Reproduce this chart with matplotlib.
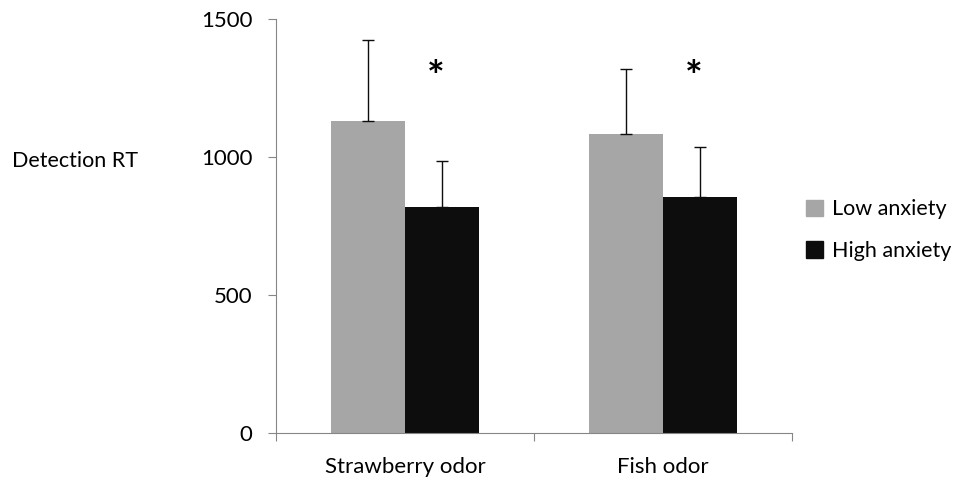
import matplotlib
matplotlib.use('Agg')
import matplotlib.pyplot as plt
import numpy as np
from matplotlib.patches import Patch

plt.rcParams['font.family'] = ['Lato', 'DejaVu Sans']

# data
categories = ['Strawberry odor', 'Fish odor']
low_mean = [1130, 1083]
low_err = [294, 236]
high_mean = [819, 855]
high_err = [167, 181]
star_y = 1285

grey = '#a6a6a6'
black = '#0d0d0d'
axcol = '#868686'

fig = plt.figure(figsize=(9.55, 4.8), dpi=100)
ax = fig.add_axes([0.289, 0.098, 0.540, 0.862])

x = np.arange(len(categories))
w = 0.287
ax.bar(x - w/2, low_mean, w, color=grey)
ax.bar(x + w/2, high_mean, w, color=black)
zeros = [0] * len(categories)
ax.errorbar(x - w/2, low_mean, yerr=[zeros, low_err], fmt='none', ecolor=black,
            elinewidth=1, capsize=4.5, capthick=1)
ax.errorbar(x + w/2, high_mean, yerr=[zeros, high_err], fmt='none', ecolor=black,
            elinewidth=1, capsize=4.5, capthick=1)
for xi in x:
    ax.text(xi + 0.12, star_y, '*', ha='center', va='center', fontsize=30,
            fontweight='bold')

ax.set_xlim(-0.5, 1.5)
ax.set_ylim(0, 1500)
ax.set_yticks([0, 500, 1000, 1500])
ax.set_xticks([-0.5, 0.5, 1.5])
ax.set_xticklabels([])
ax.set_xticks(x, minor=True)
ax.set_xticklabels(categories, minor=True)

for s in ['top', 'right']:
    ax.spines[s].set_visible(False)
for s in ['left', 'bottom']:
    ax.spines[s].set_color(axcol)
ax.tick_params(axis='both', which='major', direction='out', length=5.8, color=axcol,
               labelsize=16)
ax.tick_params(axis='y', pad=11)
ax.tick_params(axis='x', which='minor', length=0, pad=17, labelsize=16)

fig.text(12/955, 1 - 161/480, 'Detection RT', fontsize=15.5, ha='left', va='center')

handles = [Patch(color=grey), Patch(color=black)]
fig.legend(handles, ['Low anxiety', 'High anxiety'], loc='center left',
           bbox_to_anchor=(806/955, 1 - 230/480), frameon=False, fontsize=15.5,
           handlelength=0.8, handleheight=0.8, handletextpad=0.4, labelspacing=1.0,
           borderpad=0, borderaxespad=0)

fig.savefig('out.png', dpi=100)
